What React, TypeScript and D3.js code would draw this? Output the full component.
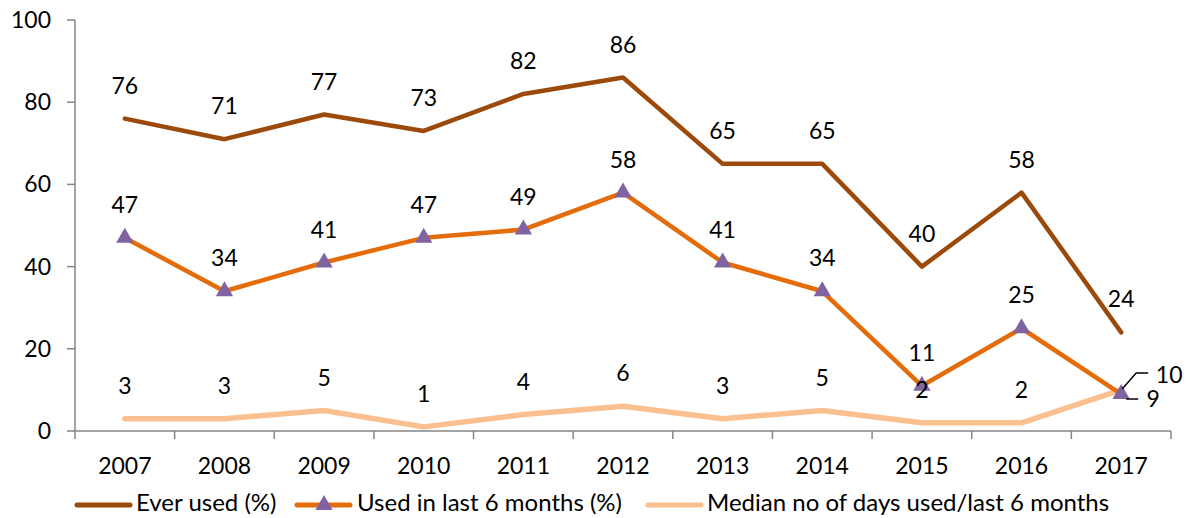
import { useMemo } from "react"
import * as d3 from "d3"

const years = ["2007", "2008", "2009", "2010", "2011", "2012", "2013", "2014", "2015", "2016", "2017"]
const everUsed = [76, 71, 77, 73, 82, 86, 65, 65, 40, 58, 24]
const usedLast6 = [47, 34, 41, 47, 49, 58, 41, 34, 11, 25, 9]
const medianDays = [3, 3, 5, 1, 4, 6, 3, 5, 2, 2, 10]
const yTicks = [0, 20, 40, 60, 80, 100]

const FONT = "Lato, 'Open Sans', sans-serif"
const W = 1187
const H = 518
const left = 75
const right = 1171
const top = 20
const bottom = 431
const NUM = 23
const legendY = 503

const series = [
  { name: "Ever used (%)", values: everUsed, color: "#9C4A0C", width: 4.5, marker: false },
  { name: "Used in last 6 months (%)", values: usedLast6, color: "#E46C0A", width: 4.5, marker: true },
  { name: "Median no of days used/last 6 months", values: medianDays, color: "#FAC090", width: 5.5, marker: false },
]

export default function App() {
  const x = useMemo(() => d3.scaleBand().domain(years).range([left, right]), [])
  const y = useMemo(() => d3.scaleLinear().domain([0, 100]).range([bottom, top]), [])
  const cx = (yr: string) => (x(yr) || 0) + x.bandwidth() / 2

  const line = d3
    .line<number>()
    .x((_, i) => cx(years[i]))
    .y((d) => y(d))

  const tri = d3.symbol().type(d3.symbolTriangle).size(130)()

  const last = years.length - 1
  const lx = cx(years[last])

  return (
    <svg width={W} height={H} style={{ position: "absolute", left: 0, top: 0, background: "#fff" }} fontFamily={FONT}>
      {/* axes */}
      <line x1={left} x2={left} y1={top} y2={bottom} stroke="#868686" strokeWidth={1.5} />
      <line x1={left} x2={right} y1={bottom} y2={bottom} stroke="#868686" strokeWidth={1.5} />
      {yTicks.map((t) => (
        <g key={t}>
          <line x1={left - 8} x2={left} y1={y(t)} y2={y(t)} stroke="#868686" strokeWidth={1.5} />
          <text x={51} y={y(t)} dy="0.35em" textAnchor="end" fontSize={NUM} fill="#000">
            {t}
          </text>
        </g>
      ))}
      {years.map((yr) => (
        <line key={"t" + yr} x1={x(yr)} x2={x(yr)} y1={bottom} y2={bottom + 8} stroke="#868686" strokeWidth={1.5} />
      ))}
      <line x1={right} x2={right} y1={bottom} y2={bottom + 8} stroke="#868686" strokeWidth={1.5} />
      {years.map((yr) => (
        <text key={"l" + yr} x={cx(yr)} y={466} dy="0.35em" textAnchor="middle" fontSize={NUM} fill="#000">
          {yr}
        </text>
      ))}

      {/* lines, drawn bottom series first so Ever used sits on top */}
      {[...series].reverse().map((s) => (
        <path
          key={s.name}
          d={line(s.values) || ""}
          fill="none"
          stroke={s.color}
          strokeWidth={s.width}
          strokeLinejoin="round"
          strokeLinecap="round"
        />
      ))}
      {usedLast6.map((v, i) => (
        <path key={"m" + i} d={tri || ""} transform={`translate(${cx(years[i])},${y(v)})`} fill="#8064A2" />
      ))}

      {/* data labels */}
      {series.map((s, si) =>
        s.values.map((v, i) => {
          if (i === last && si > 0) return null
          return (
            <text
              key={s.name + i}
              x={cx(years[i])}
              y={y(v) - 33}
              dy="0.35em"
              textAnchor="middle"
              fontSize={NUM}
              fill="#000"
            >
              {v}
            </text>
          )
        })
      )}
      {/* callout labels for 2017 */}
      <polyline
        points={`${lx + 1},${y(medianDays[last]) - 1} ${lx + 15},${y(medianDays[last]) - 17} ${lx + 27},${y(medianDays[last]) - 17}`}
        fill="none"
        stroke="#000"
        strokeWidth={1.5}
      />
      <text x={lx + 48} y={y(medianDays[last]) - 15} dy="0.35em" textAnchor="middle" fontSize={NUM} fill="#000">
        {medianDays[last]}
      </text>
      <polyline
        points={`${lx + 5},${y(usedLast6[last]) + 5} ${lx + 17},${y(usedLast6[last]) + 5}`}
        fill="none"
        stroke="#000"
        strokeWidth={1.5}
      />
      <text x={lx + 32} y={y(usedLast6[last]) + 5} dy="0.35em" textAnchor="middle" fontSize={NUM} fill="#000">
        {usedLast6[last]}
      </text>

      {/* legend */}
      {[
        { x0: 77, tx: 136 },
        { x0: 297, tx: 357 },
        { x0: 648, tx: 707 },
      ].map((p, i) => {
        const s = series[i]
        return (
          <g key={"lg" + i}>
            <line x1={p.x0} x2={p.x0 + 53} y1={legendY + 2} y2={legendY + 2} stroke={s.color} strokeWidth={5} strokeLinecap="round" />
            {s.marker && <path d={tri || ""} transform={`translate(${p.x0 + 27},${legendY + 2})`} fill="#8064A2" />}
            <text x={p.tx} y={legendY} dy="0.35em" fontSize={24} fill="#000">
              {s.name}
            </text>
          </g>
        )
      })}
    </svg>
  )
}
